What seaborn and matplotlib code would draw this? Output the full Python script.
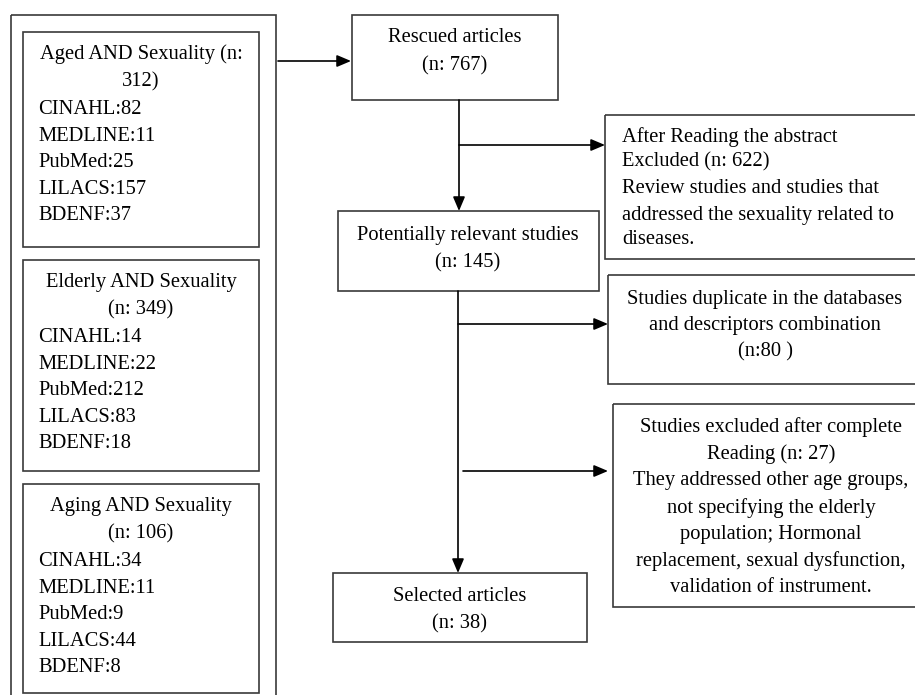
import matplotlib
matplotlib.use("Agg")
import matplotlib.pyplot as plt
from matplotlib.patches import Rectangle
import seaborn as sns

# search strings and hits per database
databases = ["CINAHL", "MEDLINE", "PubMed", "LILACS", "BDENF"]
searches = ["Aged AND Sexuality", "Elderly AND Sexuality", "Aging AND Sexuality"]
search_totals = [312, 349, 106]
aged_counts = [82, 11, 25, 157, 37]
elderly_counts = [14, 22, 212, 83, 18]
aging_counts = [34, 11, 9, 44, 8]

# flow counts
rescued = 767
excluded_abstract = 622
relevant = 145
duplicates = 80
excluded_full = 27
selected = 38

sns.set_theme(style="white")
plt.rcParams["font.family"] = ["Liberation Serif", "DejaVu Serif"]

LC = "#3a3a3a"
FS = 14.8

fig = plt.figure(figsize=(9.15, 6.95), dpi=100)
ax = fig.add_axes([0, 0, 1, 1])
ax.set_xlim(0, 915)
ax.set_ylim(695, 0)
ax.axis("off")


def box(x0, y0, x1, y1):
    ax.add_patch(Rectangle((x0, y0), x1 - x0, y1 - y0, fill=False,
                           edgecolor=LC, lw=1.2, clip_on=True))


def arrow(x0, y0, x1, y1):
    ax.annotate("", xy=(x1, y1), xytext=(x0, y0),
                arrowprops=dict(arrowstyle="-|>,head_length=0.85,head_width=0.36",
                                color="black", lw=1.2, shrinkA=0, shrinkB=0,
                                mutation_scale=10))


def lines(x, ys, texts, ha="center"):
    for y, t in zip(ys, texts):
        ax.text(x, y, t, ha=ha, va="center_baseline", fontsize=FS, color="black")


# left column: outer frame and three search boxes
box(11, 15, 276, 710)
inner = [(32, 247), (260, 471), (484, 693)]
titles = [
    [f"{searches[0]} (n:", f"{search_totals[0]})"],
    [searches[1], f"(n: {search_totals[1]})"],
    [searches[2], f"(n: {search_totals[2]})"],
]
counts = [aged_counts, elderly_counts, aging_counts]
for (top, bot), title, cnt in zip(inner, titles, counts):
    box(23, top, 259, bot)
    lines(141, [top + 20, top + 47], title)
    items = [f"{d}:{c}" for d, c in zip(databases, cnt)]
    lines(38, [top + 75 + 26.6 * i for i in range(5)], items, ha="left")

arrow(278, 61, 351, 61)

# main flow boxes
box(352, 15, 558, 100)
lines(455, [35, 63], ["Rescued articles", f"(n: {rescued})"])

box(338, 211, 599, 291)
lines(468, [233, 260], ["Potentially relevant studies", f"(n: {relevant})"])

box(333, 573, 587, 642)
lines(460, [594, 621], ["Selected articles", f"(n: {selected})"])

# exclusion boxes
box(605, 115, 930, 259)
lines(622, [135, 159, 186, 213, 237],
      ["After Reading the abstract", f"Excluded (n: {excluded_abstract})",
       "Review studies and studies that",
       "addressed the sexuality related to", "diseases."], ha="left")

box(608, 275, 930, 384)
lines(765, [297, 323, 349],
      ["Studies duplicate in the databases", "and descriptors combination",
       f"(n:{duplicates} )"])

box(613, 404, 930, 607)
lines(771, [425, 452, 478, 506, 532, 559, 585],
      ["Studies excluded after complete", f"Reading (n: {excluded_full})",
       "They addressed other age groups,", "not specifying the elderly",
       "population; Hormonal", "replacement, sexual dysfunction,",
       "validation of instrument."])

# connectors
arrow(459, 100, 459, 211)
arrow(459, 145, 605, 145)
arrow(458, 291, 458, 573)
arrow(458, 324, 608, 324)
arrow(463, 471, 608, 471)

fig.savefig("out.png", dpi=100, facecolor="white")
